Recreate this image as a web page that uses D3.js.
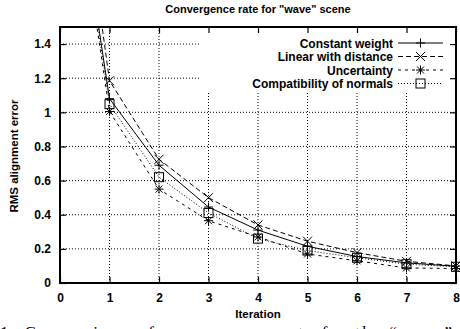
<!DOCTYPE html>
<meta charset="utf-8">
<style>
  body { margin: 0; background: #fff; }
  svg { display: block; font-family: "Liberation Sans", Arial, sans-serif; }
  .tick text { font-weight: bold; font-size: 12px; }
</style>
<body>
<svg width="460" height="329"></svg>
<script src="https://cdnjs.cloudflare.com/ajax/libs/d3/7.8.5/d3.min.js"></script>
<script>
// values (iteration 0 is above the plotted range)
var iterations = [0, 1, 2, 3, 4, 5, 6, 7, 8]
var constantWeight = [3.0, 1.08, 0.69, 0.445, 0.31, 0.215, 0.155, 0.118, 0.098]
var linearDistance = [3.3, 1.185, 0.725, 0.50, 0.34, 0.245, 0.178, 0.127, 0.10]
var uncertainty = [2.95, 1.005, 0.55, 0.365, 0.27, 0.17, 0.13, 0.088, 0.085]
var compatibility = [3.0, 1.048, 0.62, 0.41, 0.26, 0.19, 0.148, 0.11, 0.095]

var seriesNames = ['Constant weight', 'Linear with distance', 'Uncertainty', 'Compatibility of normals']
var xTicks = [0, 1, 2, 3, 4, 5, 6, 7, 8]
var yTicks = [0, 0.2, 0.4, 0.6, 0.8, 1, 1.2, 1.4]

var series = [
  { name: seriesNames[0], values: constantWeight, dash: null, mark: 'plus' },
  { name: seriesNames[1], values: linearDistance, dash: '5,3', mark: 'cross' },
  { name: seriesNames[2], values: uncertainty, dash: '3,4', mark: 'star' },
  { name: seriesNames[3], values: compatibility, dash: '1,2', mark: 'box' }
]

// plot frame (don't call it "top", that's window.top)
var pL = 60, pR = 456, pT = 27, pB = 283

var x = d3.scaleLinear().domain([0, 8]).range([pL, pR])
var y = d3.scaleLinear().domain([0, 1.5]).range([pB, pT])

var svg = d3.select('svg')

// title
svg.append('text')
  .attr('x', 258).attr('y', 13)
  .attr('text-anchor', 'middle')
  .attr('font-weight', 'bold').attr('font-size', 11)
  .text('Convergence rate for "wave" scene')

// grid
var grid = svg.append('g')
grid.selectAll('.gx').data(xTicks.slice(1, -1)).enter().append('line')
  .attr('x1', d => x(d)).attr('x2', d => x(d))
  .attr('y1', pT).attr('y2', pB)
  .attr('stroke', '#000').attr('stroke-width', 1).attr('stroke-dasharray', '1,2')
grid.selectAll('.gy').data(yTicks.slice(1)).enter().append('line')
  .attr('x1', pL).attr('x2', pR)
  .attr('y1', d => y(d)).attr('y2', d => y(d))
  .attr('stroke', '#000').attr('stroke-width', 1).attr('stroke-dasharray', '1,2')

// legend box knocks out the grid
svg.append('rect').attr('x', 200).attr('y', pT).attr('width', pR - 200).attr('height', 64).attr('fill', '#fff')

// axes, with mirrored ticks
svg.append('g').attr('transform', 'translate(0,' + pB + ')')
  .call(d3.axisBottom(x).tickValues(xTicks).tickSize(-6).tickPadding(10).tickFormat(d3.format('d')))
svg.append('g').attr('transform', 'translate(' + pL + ',0)')
  .call(d3.axisLeft(y).tickValues(yTicks).tickSize(-6).tickPadding(9).tickFormat(d => d === 0 || d === 1 ? d : d.toFixed(1)))
svg.append('g').attr('transform', 'translate(0,' + pT + ')')
  .call(d3.axisTop(x).tickValues(xTicks).tickSize(-6).tickFormat(''))
svg.append('g').attr('transform', 'translate(' + pR + ',0)')
  .call(d3.axisRight(y).tickValues(yTicks).tickSize(-6).tickFormat(''))
svg.selectAll('.domain').remove()
svg.selectAll('.tick line').attr('stroke', '#000').attr('stroke-width', 1.2)

svg.append('rect')
  .attr('x', pL).attr('y', pT).attr('width', pR - pL).attr('height', pB - pT)
  .attr('fill', 'none').attr('stroke', '#000').attr('stroke-width', 2)

// axis labels
svg.append('text')
  .attr('x', 258).attr('y', 318)
  .attr('text-anchor', 'middle')
  .attr('font-weight', 'bold').attr('font-size', 11.5)
  .text('Iteration')
svg.append('text')
  .attr('transform', 'translate(18,156) rotate(-90)')
  .attr('text-anchor', 'middle')
  .attr('font-weight', 'bold').attr('font-size', 11.5)
  .text('RMS alignment error')

// markers
function drawMark(g, type, cx, cy) {
  var s = 4.5
  if (type === 'plus' || type === 'star') {
    g.append('path').attr('d', 'M' + (cx - s) + ',' + cy + 'H' + (cx + s) + 'M' + cx + ',' + (cy - s) + 'V' + (cy + s))
      .attr('stroke', '#000').attr('stroke-width', 1).attr('fill', 'none')
  }
  if (type === 'cross' || type === 'star') {
    var k = type === 'star' ? 3.5 : 4.5
    g.append('path').attr('d', 'M' + (cx - k) + ',' + (cy - k) + 'L' + (cx + k) + ',' + (cy + k) + 'M' + (cx - k) + ',' + (cy + k) + 'L' + (cx + k) + ',' + (cy - k))
      .attr('stroke', '#000').attr('stroke-width', 1).attr('fill', 'none')
  }
  if (type === 'box') {
    g.append('rect').attr('x', cx - 4.5).attr('y', cy - 4.5).attr('width', 9).attr('height', 9)
      .attr('stroke', '#000').attr('stroke-width', 1).attr('fill', 'none')
  }
}

svg.append('clipPath').attr('id', 'plotclip')
  .append('rect').attr('x', pL).attr('y', pT).attr('width', pR - pL).attr('height', pB - pT)

var line = d3.line().x((d, i) => x(iterations[i])).y(d => y(d))
var plot = svg.append('g').attr('clip-path', 'url(#plotclip)')

series.forEach(function (s) {
  plot.append('path')
    .attr('d', line(s.values))
    .attr('fill', 'none').attr('stroke', '#000').attr('stroke-width', 1)
    .attr('stroke-dasharray', s.dash)
  var mg = svg.append('g')
  s.values.forEach(function (v, i) {
    if (v <= 1.5) drawMark(mg, s.mark, x(iterations[i]), y(v))
  })
})

// legend
var legend = svg.append('g')
series.forEach(function (s, i) {
  var ly = 43 + i * 13.5
  legend.append('text')
    .attr('x', 393).attr('y', ly + 4.5)
    .attr('text-anchor', 'end')
    .attr('font-weight', 'bold').attr('font-size', 12)
    .text(s.name)
  legend.append('line')
    .attr('x1', 398).attr('x2', 443).attr('y1', ly).attr('y2', ly)
    .attr('stroke', '#000').attr('stroke-width', 1).attr('stroke-dasharray', s.dash)
  drawMark(legend, s.mark, 420.5, ly)
})

// figure caption, cut off by the bottom edge as in the source
svg.append('text')
  .attr('x', 0).attr('y', 338)
  .attr('font-family', '"Liberation Serif", serif').attr('font-size', 17)
  .attr('textLength', 452).attr('lengthAdjust', 'spacing')
  .text('1: Comparison of convergence rate for the \u201cwave\u201d')
</script>
</body>
